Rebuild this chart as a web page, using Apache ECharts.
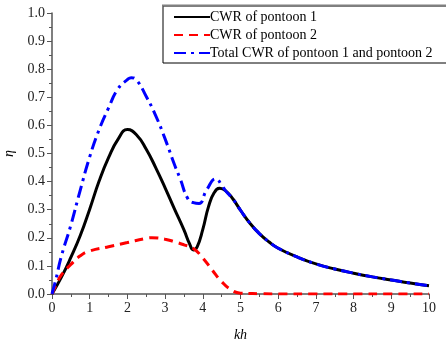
<!DOCTYPE html>
<html>
<head>
<meta charset="utf-8">
<script src="https://cdn.jsdelivr.net/npm/echarts@6/dist/echarts.min.js"></script>
<style>
  html, body { margin: 0; padding: 0; background: #fff; }
  #main { width: 446px; height: 342px; }
</style>
</head>
<body>
<div id="main"></div>
<script>
// values: [kh, eta]
var cwr1 = [
    [0, 0], [0.25, 0.06], [0.5, 0.13], [0.75, 0.208], [1, 0.302], [1.25, 0.402],
    [1.5, 0.485], [1.75, 0.55], [2, 0.585], [2.25, 0.565], [2.5, 0.515], [2.75, 0.45],
    [3, 0.378], [3.25, 0.302], [3.5, 0.228], [3.65, 0.178], [3.75, 0.157], [3.85, 0.168],
    [4, 0.23], [4.15, 0.31], [4.3, 0.36], [4.45, 0.376], [4.6, 0.368], [4.8, 0.338],
    [5, 0.298], [5.25, 0.252], [5.5, 0.215], [5.75, 0.186], [6, 0.163], [6.5, 0.132],
    [7, 0.107], [7.5, 0.089], [8, 0.074], [8.5, 0.061], [9, 0.05], [9.5, 0.039], [10, 0.029]
];
var cwr2 = [
    [0, 0], [0.1, 0.03], [0.25, 0.068], [0.5, 0.105], [0.75, 0.136], [1, 0.153],
    [1.5, 0.168], [2, 0.183], [2.5, 0.198], [2.65, 0.2], [3, 0.195], [3.25, 0.186],
    [3.5, 0.175], [3.75, 0.162], [4, 0.128], [4.25, 0.085], [4.5, 0.044], [4.75, 0.015],
    [5, 0.003], [5.5, 0.001], [6, 0], [7, 0], [8, 0], [9, 0], [10, 0]
];
var cwrTotal = [
    [0, 0], [0.1, 0.05], [0.25, 0.135], [0.5, 0.245], [0.75, 0.37], [1, 0.488],
    [1.25, 0.585], [1.5, 0.662], [1.75, 0.73], [2, 0.763], [2.1, 0.77], [2.25, 0.76],
    [2.5, 0.703], [2.75, 0.635], [3, 0.552], [3.25, 0.46], [3.4, 0.41], [3.6, 0.34],
    [3.75, 0.325], [3.9, 0.322], [4.1, 0.37], [4.35, 0.41], [4.5, 0.388], [4.6, 0.368],
    [4.8, 0.338], [5, 0.298], [5.25, 0.252], [5.5, 0.215], [5.75, 0.186], [6, 0.163],
    [6.5, 0.132], [7, 0.107], [7.5, 0.089], [8, 0.074], [8.5, 0.061], [9, 0.05],
    [9.5, 0.039], [10, 0.029]
];
var names = ['CWR of pontoon 1', 'CWR of pontoon 2', 'Total CWR of pontoon 1 and pontoon 2'];

var font = 'Liberation Serif';
var chart = echarts.init(document.getElementById('main'));

var mkSeries = (name, data, color, type, z) => ({
    name: name,
    type: 'line',
    data: data,
    smooth: 0.5,
    symbol: 'none',
    z: z,
    lineStyle: { color: color, width: 3, type: type },
    itemStyle: { color: color }
});

var option = {
    animation: false,
    grid: { left: 52, right: 17, top: 13, bottom: 48, outerBoundsMode: 'none' },
    legend: {
        orient: 'vertical',
        left: 163,
        top: 6,
        width: 290,
        padding: [4, 40, 3, 10],
        itemWidth: 36,
        itemHeight: 10,
        itemGap: 4,
        borderColor: '#000',
        borderWidth: 1,
        backgroundColor: '#fff',
        itemStyle: { opacity: 0 },
        data: names,
        textStyle: { fontFamily: font, fontSize: 14, color: '#000', padding: [0, 0, 0, -5] }
    },
    xAxis: {
        type: 'value',
        min: 0, max: 10, interval: 1,
        name: 'kh',
        nameLocation: 'middle',
        nameGap: 34,
        nameTextStyle: { fontFamily: font, fontSize: 14, fontStyle: 'italic', color: '#000' },
        axisLine: { lineStyle: { color: '#555', width: 1.5 } },
        axisTick: { length: 5, lineStyle: { color: '#555' } },
        minorTick: { show: true, splitNumber: 2, length: 3, lineStyle: { color: '#555' } },
        splitLine: { show: false },
        axisLabel: { fontFamily: font, fontSize: 14, color: '#222', margin: 7 }
    },
    yAxis: {
        type: 'value',
        min: 0, max: 1, interval: 0.1,
        name: 'η',
        nameLocation: 'middle',
        nameGap: 36,
        nameRotate: 90,
        nameTextStyle: { fontFamily: font, fontSize: 14, fontStyle: 'italic', color: '#000' },
        axisLine: { show: true, lineStyle: { color: '#555', width: 1.5 } },
        axisTick: { show: true, length: 5, lineStyle: { color: '#555' } },
        minorTick: { show: true, splitNumber: 2, length: 3, lineStyle: { color: '#555' } },
        splitLine: { show: false },
        axisLabel: { fontFamily: font, fontSize: 14, color: '#222', margin: 7,
            formatter: v => v.toFixed(1) }
    },
    graphic: [{
        type: 'line',
        shape: { x1: 162, y1: 5.5, x2: 446, y2: 5.5 },
        style: { stroke: '#808080', lineWidth: 2 },
        z: 100
    }],
    series: [
        mkSeries(names[0], cwr1, '#000000', 'solid', 1),
        mkSeries(names[1], cwr2, '#ff0000', [9, 6], 2),
        mkSeries(names[2], cwrTotal, '#0000ff', [12, 5, 3, 5], 3)
    ]
};
chart.setOption(option);
</script>
</body>
</html>
